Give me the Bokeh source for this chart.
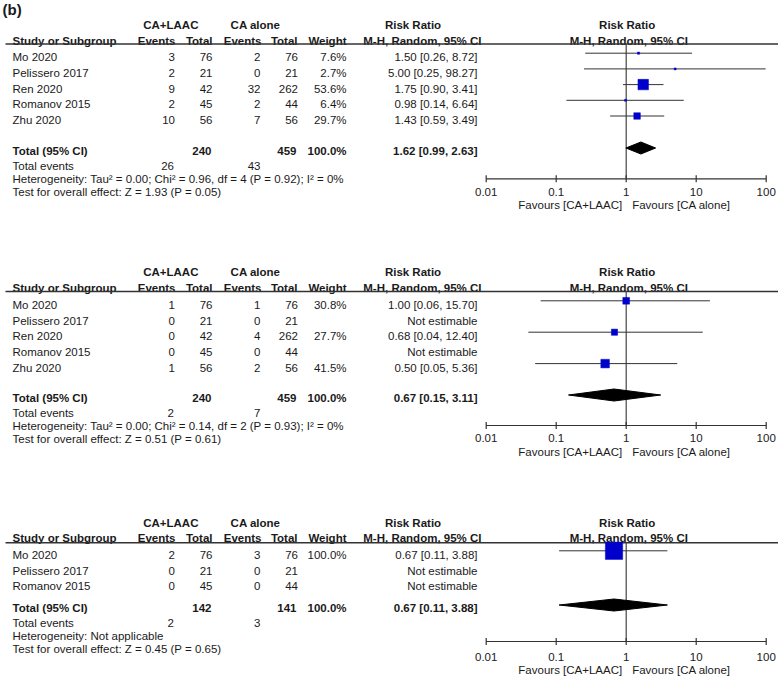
from bokeh.plotting import figure
from bokeh.models import Range1d, LogScale, ColumnDataSource
from bokeh.embed import file_html
from bokeh.resources import INLINE
from bokeh.core.properties import value

# ---------------- data ----------------
studies_1 = ["Mo 2020", "Pelissero 2017", "Ren 2020", "Romanov 2015", "Zhu 2020"]
ev_laac_1 = [3, 2, 9, 2, 10]
tot_laac_1 = [76, 21, 42, 45, 56]
ev_ca_1 = [2, 0, 32, 2, 7]
tot_ca_1 = [76, 21, 262, 44, 56]
weight_1 = [7.6, 2.7, 53.6, 6.4, 29.7]
rr_1 = [1.50, 5.00, 1.75, 0.98, 1.43]
lo_1 = [0.26, 0.25, 0.90, 0.14, 0.59]
hi_1 = [8.72, 98.27, 3.41, 6.64, 3.49]
total_1 = dict(n_laac=240, n_ca=459, ev_laac=26, ev_ca=43, rr=1.62, lo=0.99, hi=2.63,
               het="Heterogeneity: Tau\u00b2 = 0.00; Chi\u00b2 = 0.96, df = 4 (P = 0.92); I\u00b2 = 0%",
               test="Test for overall effect: Z = 1.93 (P = 0.05)")

studies_2 = ["Mo 2020", "Pelissero 2017", "Ren 2020", "Romanov 2015", "Zhu 2020"]
ev_laac_2 = [1, 0, 0, 0, 1]
tot_laac_2 = [76, 21, 42, 45, 56]
ev_ca_2 = [1, 0, 4, 0, 2]
tot_ca_2 = [76, 21, 262, 44, 56]
weight_2 = [30.8, None, 27.7, None, 41.5]
rr_2 = [1.00, None, 0.68, None, 0.50]
lo_2 = [0.06, None, 0.04, None, 0.05]
hi_2 = [15.70, None, 12.40, None, 5.36]
total_2 = dict(n_laac=240, n_ca=459, ev_laac=2, ev_ca=7, rr=0.67, lo=0.15, hi=3.11,
               het="Heterogeneity: Tau\u00b2 = 0.00; Chi\u00b2 = 0.14, df = 2 (P = 0.93); I\u00b2 = 0%",
               test="Test for overall effect: Z = 0.51 (P = 0.61)")

studies_3 = ["Mo 2020", "Pelissero 2017", "Romanov 2015"]
ev_laac_3 = [2, 0, 0]
tot_laac_3 = [76, 21, 45]
ev_ca_3 = [3, 0, 0]
tot_ca_3 = [76, 21, 44]
weight_3 = [100.0, None, None]
rr_3 = [0.67, None, None]
lo_3 = [0.11, None, None]
hi_3 = [3.88, None, None]
total_3 = dict(n_laac=142, n_ca=141, ev_laac=2, ev_ca=3, rr=0.67, lo=0.11, hi=3.88,
               het="Heterogeneity: Not applicable",
               test="Test for overall effect: Z = 0.45 (P = 0.65)")

tick_values = [0.01, 0.1, 1, 10, 100]
tick_labels = ["0.01", "0.1", "1", "10", "100"]

# ---------------- layout ----------------
FONT = value("Liberation Sans")
FS = "11.5px"
TXT = "#1a1a1a"
LINE = "#333333"
BLUE = "#0000CC"
ROW = 15.7
X_ONE = 625.7   # pixel of RR = 1
DEC = 70.0      # pixels per decade
W, H = 778, 678

p = figure(width=W, height=H, output_backend="svg", toolbar_location=None,
           x_range=Range1d(0, W), y_range=Range1d(H, 0),
           x_axis_location=None, y_axis_location=None, min_border=0)
p.grid.visible = False
p.outline_line_color = None
p.extra_x_ranges = {"rr": Range1d(10 ** ((0 - X_ONE) / DEC), 10 ** ((W - X_ONE) / DEC))}
p.extra_x_scales = {"rr": LogScale()}


def texts(xs, ys, strs, align="left", bold=False, size=FS):
    src = ColumnDataSource(dict(x=list(xs), y=list(ys), t=list(strs)))
    p.text(x="x", y="y", text="t", source=src, text_align=align, text_baseline="middle",
           text_font=FONT, text_font_size=size, text_color=TXT,
           text_font_style="bold" if bold else "normal")


COLS = dict(name=12, ev_a=174.5, tot_a=212, ev_b=260, tot_b=297.5, w=346, rr=477)


def panel(studies, ev_a, tot_a, ev_b, tot_b, weights, rr, lo, hi, tot, L):
    n = len(studies)
    ys = [L["row0"] + i * ROW for i in range(n)]
    # headers
    texts([170.3, 255, 412.5, 626.7], [L["g"]] * 4, ["CA+LAAC", "CA alone", "Risk Ratio", "Risk Ratio"],
          align="center", bold=True)
    texts([12], [L["h"]], ["Study or Subgroup"], bold=True)
    texts([175, 212, 261, 297, 346, 481], [L["h"]] * 6,
          ["Events", "Total", "Events", "Total", "Weight", "M-H, Random, 95% CI"], align="right", bold=True)
    texts([628.3], [L["h"]], ["M-H, Random, 95% CI"], align="center", bold=True)
    p.segment(x0=[5], y0=[L["line"]], x1=[778], y1=[L["line"]], line_color=LINE, line_width=1.4)
    # study rows
    texts([COLS["name"]] * n, ys, studies)
    texts([COLS["ev_a"]] * n, ys, [str(v) for v in ev_a], align="right")
    texts([COLS["tot_a"]] * n, ys, [str(v) for v in tot_a], align="right")
    texts([COLS["ev_b"]] * n, ys, [str(v) for v in ev_b], align="right")
    texts([COLS["tot_b"]] * n, ys, [str(v) for v in tot_b], align="right")
    texts([COLS["w"]] * n, ys, ["" if w is None else f"{w:.1f}%" for w in weights], align="right")
    texts([COLS["rr"]] * n, ys,
          ["Not estimable" if r is None else f"{r:.2f} [{a:.2f}, {b:.2f}]" for r, a, b in zip(rr, lo, hi)],
          align="right")
    # totals
    texts([12], [L["tot"]], ["Total (95% CI)"], bold=True)
    texts([COLS["tot_a"] - 1, COLS["tot_b"] - 1.5, COLS["w"], COLS["rr"]], [L["tot"]] * 4,
          [str(tot["n_laac"]), str(tot["n_ca"]), "100.0%",
           f"{tot['rr']:.2f} [{tot['lo']:.2f}, {tot['hi']:.2f}]"], align="right", bold=True)
    texts([12], [L["tev"]], ["Total events"])
    texts([COLS["ev_a"] - 1, COLS["ev_b"]], [L["tev"]] * 2, [str(tot["ev_laac"]), str(tot["ev_ca"])],
          align="right")
    texts([12, 12], [L["het"], L["test"]], [tot["het"], tot["test"]])
    # forest: reference line and axis
    p.segment(x0=[1], y0=[L["line"]], x1=[1], y1=[L["axis"]], x_range_name="rr",
              line_color="#444444", line_width=1.2)
    p.segment(x0=[tick_values[0]], y0=[L["axis"]], x1=[tick_values[-1]], y1=[L["axis"]],
              x_range_name="rr", line_color=LINE, line_width=1.2)
    p.segment(x0=tick_values, y0=[L["axis"] - 3.5] * 5, x1=tick_values, y1=[L["axis"] + 3.5] * 5,
              x_range_name="rr", line_color=LINE, line_width=1.2)
    src = ColumnDataSource(dict(x=tick_values, y=[L["tlab"]] * 5, t=tick_labels))
    p.text(x="x", y="y", text="t", source=src, x_range_name="rr", text_align="center",
           text_baseline="middle", text_font=FONT, text_font_size=FS, text_color=TXT)
    texts([621.7], [L["fav"]], ["Favours [CA+LAAC]"], align="right")
    texts([631.7], [L["fav"]], ["Favours [CA alone]"])
    # study CIs and squares
    idx = [i for i in range(n) if rr[i] is not None]
    my = [ys[i] - 4 for i in idx]
    p.segment(x0=[lo[i] for i in idx], y0=my, x1=[hi[i] for i in idx], y1=my, x_range_name="rr",
              line_color=LINE, line_width=1)
    sizes = [max(2.0, 0.435 * weights[i] ** 0.8) for i in idx]
    p.scatter(x=[rr[i] for i in idx], y=my, size=sizes, marker="square", x_range_name="rr",
              fill_color=BLUE, line_color=BLUE, line_width=0.5)
    # pooled diamond
    dy = L["tot"] - 2.5
    h = 6
    p.patches(xs=[[tot["lo"], tot["rr"], tot["hi"], tot["rr"]]], ys=[[dy, dy - h, dy, dy + h]],
              x_range_name="rr", fill_color="black", line_color="black")


L1 = dict(g=24, h=40, line=43.5, row0=56.7, tot=150, tev=165, het=178, test=191,
          axis=178.3, tlab=191, fav=204)
L2 = dict(g=271.5, h=287.5, line=291, row0=304.3, tot=397, tev=412, het=425, test=438,
          axis=425, tlab=437.5, fav=451)
L3 = dict(g=522.7, h=537.7, line=542.3, row0=554.3, tot=607, tev=622, het=635, test=648,
          axis=641, tlab=656, fav=669)

panel(studies_1, ev_laac_1, tot_laac_1, ev_ca_1, tot_ca_1, weight_1, rr_1, lo_1, hi_1, total_1, L1)
panel(studies_2, ev_laac_2, tot_laac_2, ev_ca_2, tot_ca_2, weight_2, rr_2, lo_2, hi_2, total_2, L2)
panel(studies_3, ev_laac_3, tot_laac_3, ev_ca_3, tot_ca_3, weight_3, rr_3, lo_3, hi_3, total_3, L3)

texts([2], [9], ["(b)"], bold=True, size="15px")

open("out.html", "w").write(file_html(p, INLINE))
